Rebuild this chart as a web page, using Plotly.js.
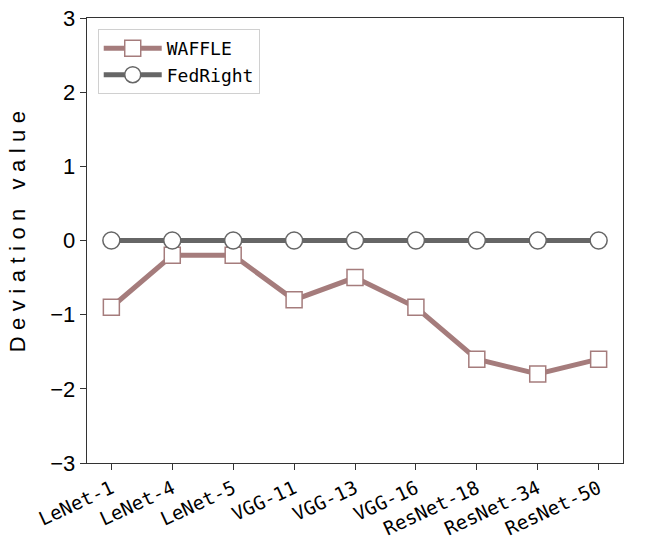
<!DOCTYPE html>
<html><head><meta charset="utf-8">
<script src="https://cdn.plot.ly/plotly-3.0.1.min.js"></script>
<style>html,body{margin:0;padding:0;background:#fff}
.annotation-text{letter-spacing:6.5px}</style>
</head><body>
<div id="chart" style="width:647px;height:538px"></div>
<script>
const categories = ["LeNet-1","LeNet-4","LeNet-5","VGG-11","VGG-13","VGG-16","ResNet-18","ResNet-34","ResNet-50"];
const waffle = [-0.9,-0.2,-0.2,-0.8,-0.5,-0.9,-1.6,-1.8,-1.6];
const fedright = [0,0,0,0,0,0,0,0,0];
const yTicks = [-3,-2,-1,0,1,2,3];
const yTitle = "Deviation value";

const mono = "DejaVu Sans Mono, monospace";
const traces = [
  {x: categories.map((c,i)=>i), y: waffle, name: "WAFFLE", mode: "lines+markers",
   line: {color: "#a57c7c", width: 5},
   marker: {symbol: "square", size: 16, color: "#ffffff", line: {color: "#a57c7c", width: 1.5}}},
  {x: categories.map((c,i)=>i), y: fedright, name: "FedRight", mode: "lines+markers",
   line: {color: "#666666", width: 5},
   marker: {symbol: "circle", size: 17, color: "#ffffff", line: {color: "#666666", width: 1.5}}}
];
const layout = {
  width: 647, height: 538,
  margin: {l: 87, r: 24, t: 18, b: 75},
  paper_bgcolor: "#fff", plot_bgcolor: "#fff",
  showlegend: true,
  legend: {x: 0.02, y: 0.975, xanchor: "left", yanchor: "top",
    bgcolor: "rgba(255,255,255,0.8)", bordercolor: "#d0d0d0", borderwidth: 1,
    font: {family: mono, size: 18, color: "#000"}, itemwidth: 58, tracegroupgap: 4},
  xaxis: {range: [-0.4, 8.4], tickmode: "array", tickvals: categories.map((c,i)=>i), ticktext: categories,
    tickangle: -25, ticks: "outside", ticklen: 6, tickcolor: "#333",
    showline: true, linecolor: "#333", linewidth: 1.3, mirror: true,
    showgrid: false, zeroline: false,
    tickfont: {family: mono, size: 19, color: "#000"}},
  yaxis: {range: [-3, 3], tickmode: "array", tickvals: yTicks,
    ticks: "outside", ticklen: 6, tickcolor: "#333",
    showline: true, linecolor: "#333", linewidth: 1.3, mirror: true,
    showgrid: false, zeroline: false,
    tickfont: {family: "Liberation Sans, Arial, sans-serif", size: 22, color: "#000"}},
  annotations: [{text: yTitle, textangle: -90, showarrow: false,
    xref: "paper", yref: "paper", x: -0.13, y: 0.528, xanchor: "center", yanchor: "middle",
    font: {family: "Liberation Sans, Arial, sans-serif", size: 22, color: "#000"}}]
};
Plotly.newPlot("chart", traces, layout, {displayModeBar: false, staticPlot: true});
</script>
</body></html>
